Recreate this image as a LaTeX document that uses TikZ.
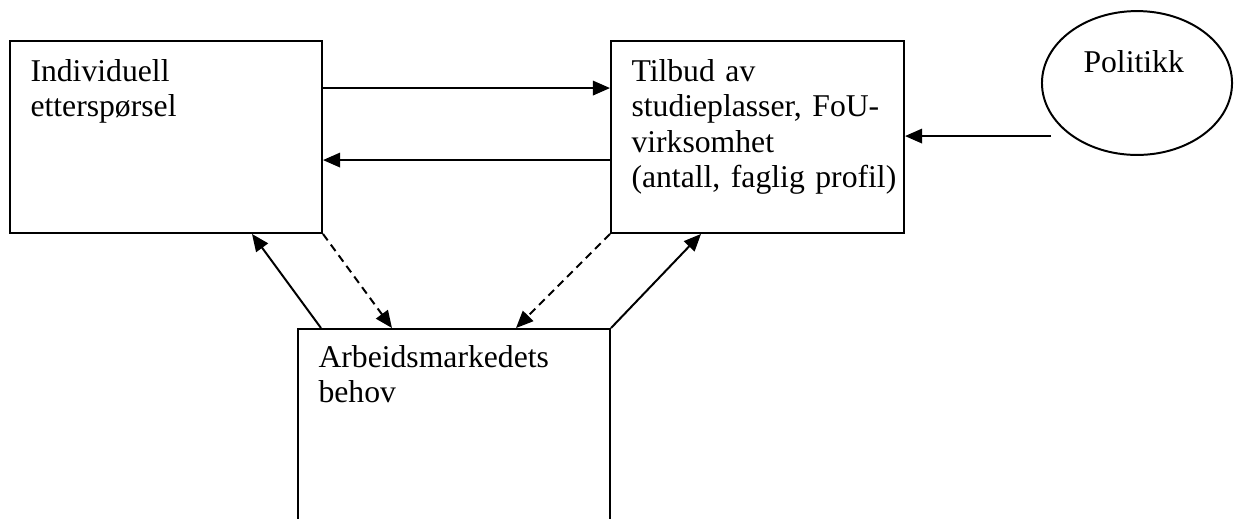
\documentclass[tikz,border=0pt]{standalone}
\usepackage{fontspec}
\setmainfont{Liberation Serif}
\usetikzlibrary{arrows.meta,shapes.geometric,calc}
\tikzset{
  box/.style={draw, rectangle, line width=0.75pt, inner sep=0pt},
  oval/.style={draw, ellipse, line width=0.75pt, inner sep=0pt},
  txt/.style={anchor=north west, align=left, text width=140pt, inner sep=0pt,
    font=\fontsize{12}{13.45}\selectfont,
    execute at begin node={\setlength\baselineskip{13.45pt}\setlength\parskip{0pt}}},
  arr/.style={line width=0.75pt, -{Triangle[length=6.5pt,width=5.5pt]}},
  darr/.style={arr, dash pattern=on 3pt off 2pt}
}
\begin{document}
\begin{tikzpicture}[x=0.3788pt, y=-0.3788pt]
\useasboundingbox (0,0) rectangle (1242,518);

% the three boxes and the policy oval
\node[box, minimum width=118.2pt, minimum height=72.7pt] (L) at (166,137) {};
\node[box, minimum width=111.0pt, minimum height=72.7pt] (R) at (757.5,137) {};
\node[box, minimum width=118.2pt, minimum height=75.0pt] (B) at (454,428) {};
\node[oval, minimum width=72.0pt, minimum height=54.5pt] (P) at (1137,83) {};

% labels, one paragraph per line so the fixed baseline skip applies
\node[txt] (Lt) at ($(L.north west)+(21,16)$) {\strut Individuell\par etterspørsel};
\node[txt] (Rt) at ($(R.north west)+(21,16)$) {\strut Tilbud av\par studieplasser, FoU-\par virksomhet\par (antall, faglig profil)};
\node[txt] (Bt) at ($(B.north west)+(21,14)$) {\strut Arbeidsmarkedets\par behov};
\node[txt] (Pt) at (1083,47) {\strut Politikk};

% connectors
\coordinate (Pend) at ($(R.north east)+(146,96)$);
\draw[arr] ($(L.north east)+(0,48)$) -- ($(R.north west)+(0,48)$);
\draw[arr] ($(R.north west)+(0,120)$) -- ($(L.north east)+(0,120)$);
\draw[arr] (Pend) -- ($(R.north east)+(0,96)$);
\draw[arr] ($(B.north west)+(24,0)$) -- ($(L.south east)+(-71,0)$);
\draw[darr] (L.south east) -- ($(B.north west)+(95,0)$);
\draw[darr] (R.south west) -- ($(B.north east)+(-95,0)$);
\draw[arr] (B.north east) -- ($(R.south west)+(91,0)$);
\end{tikzpicture}
\end{document}
